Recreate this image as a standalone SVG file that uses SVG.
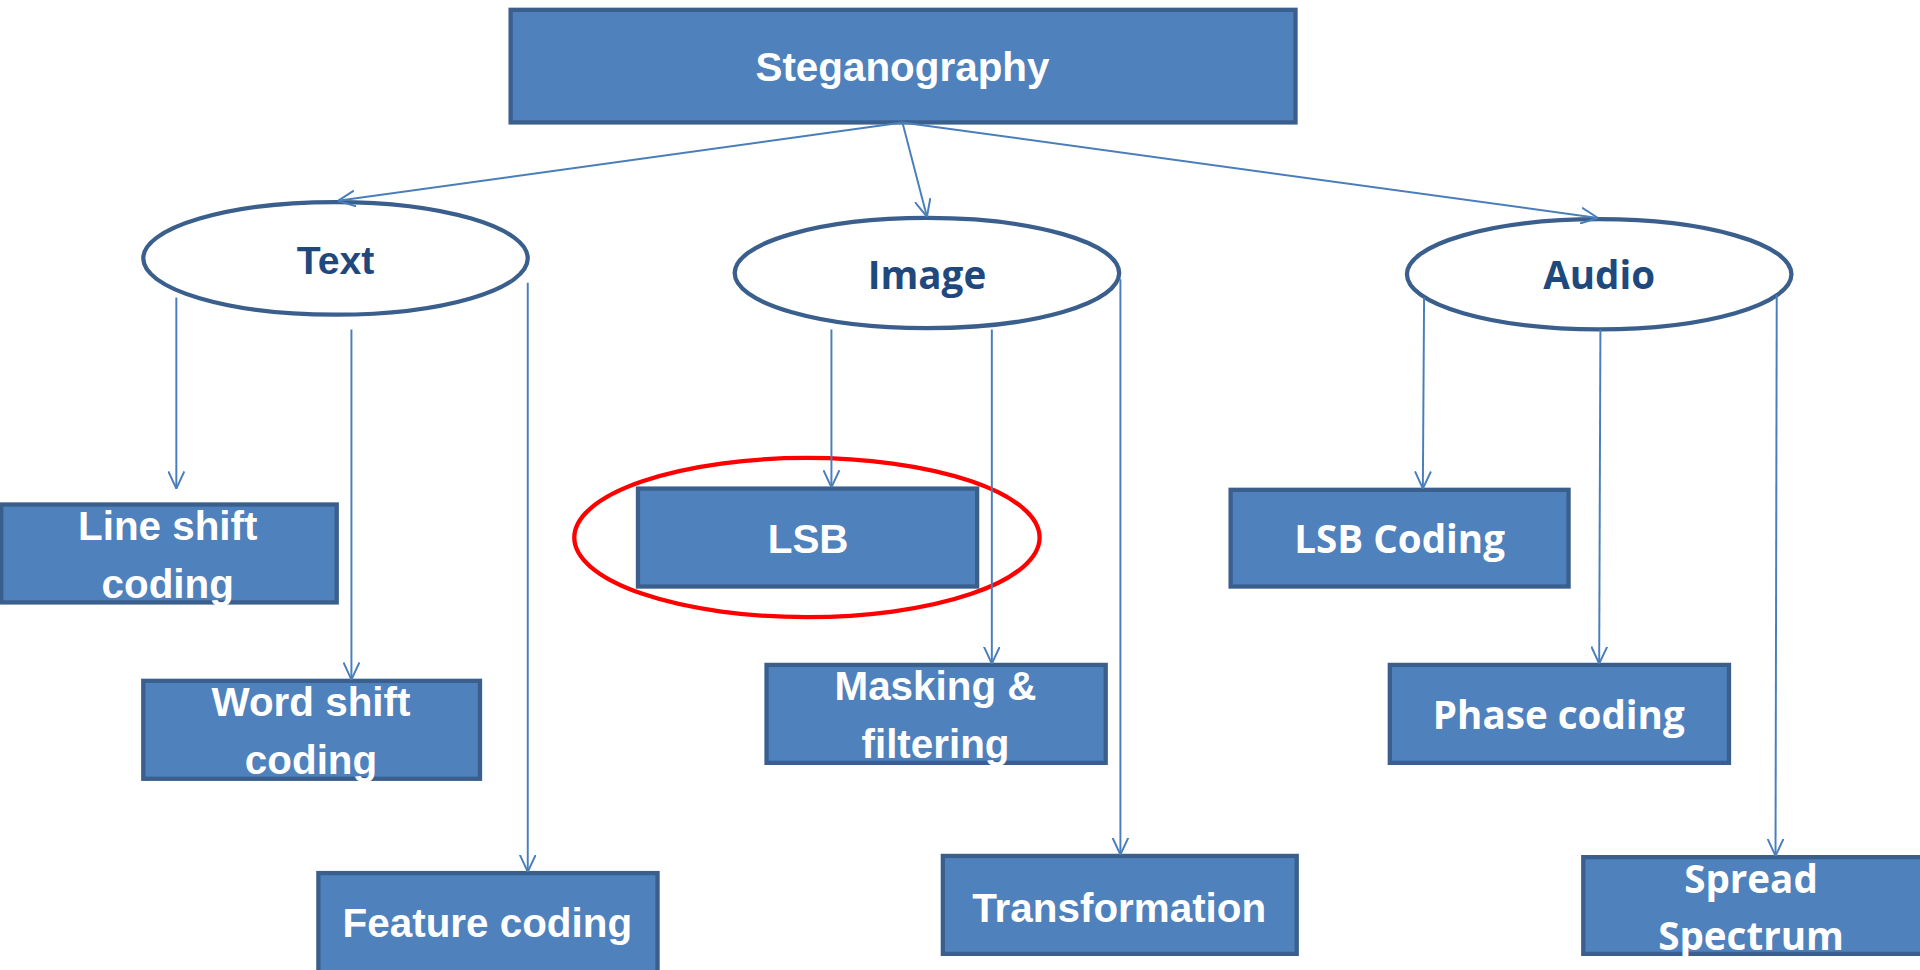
<svg xmlns="http://www.w3.org/2000/svg" width="1920" height="970" viewBox="0 0 1920 970">
<defs>
<style>
.box{fill:#4F81BD;stroke:#3A5F8C;stroke-width:3.5}
.ell{fill:#FFFFFF;stroke:#3A5F8C;stroke-width:3.5}
.hl{fill:none;stroke:#FF0000;stroke-width:3.5}
.con{stroke:#4A7EBB;stroke-width:1.6;fill:none;marker-end:url(#arr)}
.wt{font-family:"Liberation Sans",Arial,sans-serif;font-weight:bold;font-size:33px;fill:#FFFFFF;text-anchor:middle}
.wo{font-family:"Open Sans","Liberation Sans",sans-serif;font-weight:bold;font-size:31.5px;fill:#FFFFFF;text-anchor:middle}
.bt{font-family:"Liberation Sans",Arial,sans-serif;font-weight:bold;font-size:32px;fill:#1F497D;text-anchor:middle}
.bo{font-family:"Open Sans","Liberation Sans",sans-serif;font-weight:bold;font-size:31.5px;fill:#1F497D;text-anchor:middle}
</style>
<marker id="arr" viewBox="0 0 14 14" refX="14" refY="7" markerWidth="14" markerHeight="14" markerUnits="userSpaceOnUse" orient="auto">
<path d="M0,0.5 L14,7 L0,13.5" fill="none" stroke="#4A7EBB" stroke-width="1.6"/>
</marker>
</defs>
<rect width="1920" height="970" fill="#FFFFFF"/>
<g transform="scale(1.22449)">
<g id="n-steganography">
<rect class="box" x="417" y="8" width="641" height="92"/>
<text class="wt" x="737" y="66" font-size="34">Steganography</text>
</g>
<g id="n-text">
<ellipse class="ell" cx="274" cy="211" rx="157" ry="46"/>
<text class="bt" x="274" y="224">Text</text>
</g>
<g id="n-image">
<ellipse class="ell" cx="757" cy="223" rx="157" ry="45"/>
<text class="bo" x="757" y="236">Image</text>
</g>
<g id="n-audio">
<ellipse class="ell" cx="1306" cy="224" rx="157" ry="45"/>
<text class="bo" x="1306" y="236">Audio</text>
</g>
<g id="n-line-shift">
<rect class="box" x="1" y="412" width="274" height="80"/>
<text class="wt" x="137" y="441">Line shift</text>
<text class="wt" x="137" y="488">coding</text>
</g>
<g id="n-word-shift">
<rect class="box" x="117" y="556" width="275" height="80"/>
<text class="wt" x="254" y="585">Word shift</text>
<text class="wt" x="254" y="632">coding</text>
</g>
<g id="n-feature">
<rect class="box" x="260" y="713" width="277" height="90"/>
<text class="wt" x="398" y="765">Feature coding</text>
</g>
<g id="n-lsb">
<rect class="box" x="521" y="399" width="277" height="80"/>
<text class="wt" x="660" y="452">LSB</text>
<ellipse class="hl" cx="659" cy="439" rx="190" ry="65"/>
</g>
<g id="n-masking">
<rect class="box" x="626" y="543" width="277" height="80"/>
<text class="wt" x="764" y="572">Masking &amp;</text>
<text class="wt" x="764" y="619">filtering</text>
</g>
<g id="n-transformation">
<rect class="box" x="770" y="699" width="289" height="80"/>
<text class="wt" x="914" y="753">Transformation</text>
</g>
<g id="n-lsb-coding">
<rect class="box" x="1005" y="400" width="276" height="79"/>
<text class="wo" x="1143" y="452">LSB Coding</text>
</g>
<g id="n-phase">
<rect class="box" x="1135" y="543" width="277" height="80"/>
<text class="wo" x="1273" y="595">Phase coding</text>
</g>
<g id="n-spread">
<rect class="box" x="1293" y="700" width="280" height="79"/>
<text class="wo" x="1430" y="729">Spread</text>
<text class="wo" x="1430" y="776">Spectrum</text>
</g>
<g id="connectors">
<line class="con" x1="737" y1="100" x2="276" y2="164"/>
<line class="con" x1="737" y1="100" x2="757" y2="177"/>
<line class="con" x1="737" y1="100" x2="1305" y2="178"/>
<line class="con" x1="144" y1="243" x2="144" y2="399"/>
<line class="con" x1="287" y1="269" x2="287" y2="555"/>
<line class="con" x1="431" y1="231" x2="431" y2="712"/>
<line class="con" x1="679" y1="269" x2="679" y2="398"/>
<line class="con" x1="810" y1="269" x2="810" y2="542"/>
<line class="con" x1="915" y1="228" x2="915" y2="698"/>
<line class="con" x1="1163" y1="243" x2="1162" y2="399"/>
<line class="con" x1="1307" y1="269" x2="1306" y2="542"/>
<line class="con" x1="1451" y1="241" x2="1450" y2="699"/>
</g>
</g>
</svg>
